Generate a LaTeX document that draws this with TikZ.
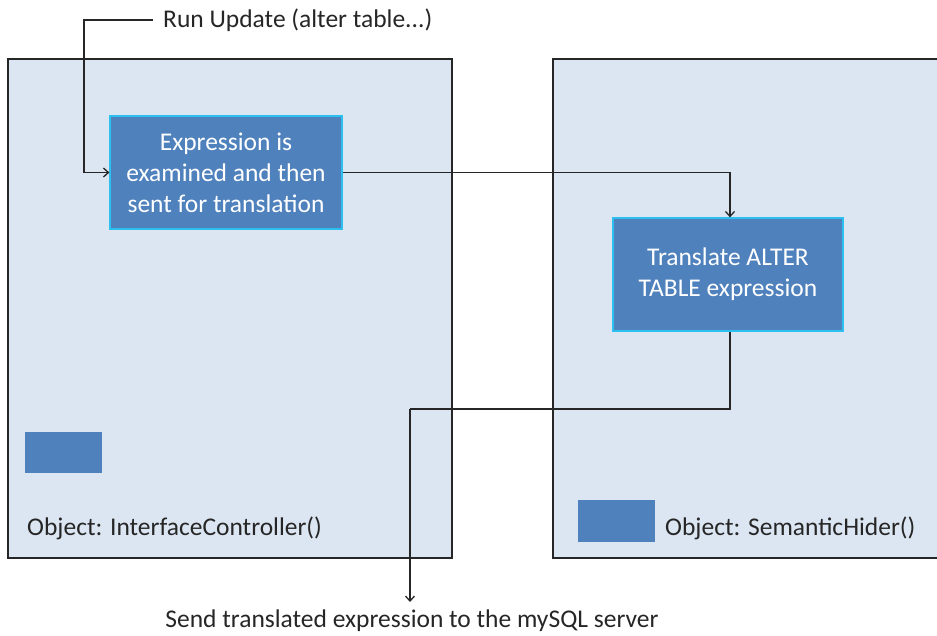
\documentclass[tikz,border=0pt]{standalone}
\usepackage{fontspec}
\setmainfont{Carlito}
\usetikzlibrary{arrows.meta}
\definecolor{panel}{HTML}{DCE6F2}
\definecolor{blueb}{HTML}{4F81BD}
\definecolor{cyanb}{HTML}{2CC0F0}
\begin{document}
\begin{tikzpicture}[x=1pt,y=-1pt,
  panelbox/.style={draw=black!85,line width=1.3pt,fill=panel},
  stepbox/.style={draw=cyanb,line width=1.2pt,fill=blueb,text=white,align=center,
     font=\fontsize{25.5}{31}\selectfont,inner sep=0pt},
  sq/.style={fill=blueb,inner sep=0pt},
  lbl/.style={font=\fontsize{25.5}{30}\selectfont,text=black!85,inner sep=0pt},
  conn/.style={draw=black!85,line width=1.3pt,-{Straight Barb[length=5pt,width=9pt]}},
  plain/.style={draw=black!85,line width=1.3pt}]
\useasboundingbox (0,0) rectangle (937,635);
\clip (0,0) rectangle (937,635);
% panels
\path[panelbox] (8,59) rectangle (452,558);
\path[panelbox] (553,59) rectangle (960,558);
% blue boxes
\node[stepbox,minimum width=232pt,minimum height=113pt] (exam) at (226,172.5)
  {Expression is\\examined and then\\sent for translation};
\node[stepbox,minimum width=230pt,minimum height=113pt] (trans) at (728,274.5)
  {Translate ALTER\\TABLE expression};
% small squares
\node[sq,minimum width=77pt,minimum height=41pt] (sqa) at (63.5,452.5) {};
\node[sq,minimum width=77pt,minimum height=42pt] (sqb) at (616.5,521) {};
% labels
\node[lbl,anchor=west] (ic) at (27,528) {Object: InterfaceController()};
\node[lbl,anchor=west] (sh) at (665,528) {Object: SemanticHider()};
\node[lbl,anchor=west] (run) at (163,20) {Run Update (alter table...)};
\node[lbl] (send) at (412,621) {Send translated expression to the mySQL server};
% connectors
\coordinate (c1) at (84,20);
\coordinate (c2) at (730,409);
\coordinate (c3) at (410,409);
\coordinate (out) at (410,602);
\draw[conn] ([xshift=-10pt]run.west) -- (c1) |- (exam.west);
\draw[conn] (exam.east) -| ([xshift=2pt]trans.north);
\draw[plain] ([xshift=2pt]trans.south) |- (c3);
\draw[conn] (c3) -- (out);
\end{tikzpicture}
\end{document}
